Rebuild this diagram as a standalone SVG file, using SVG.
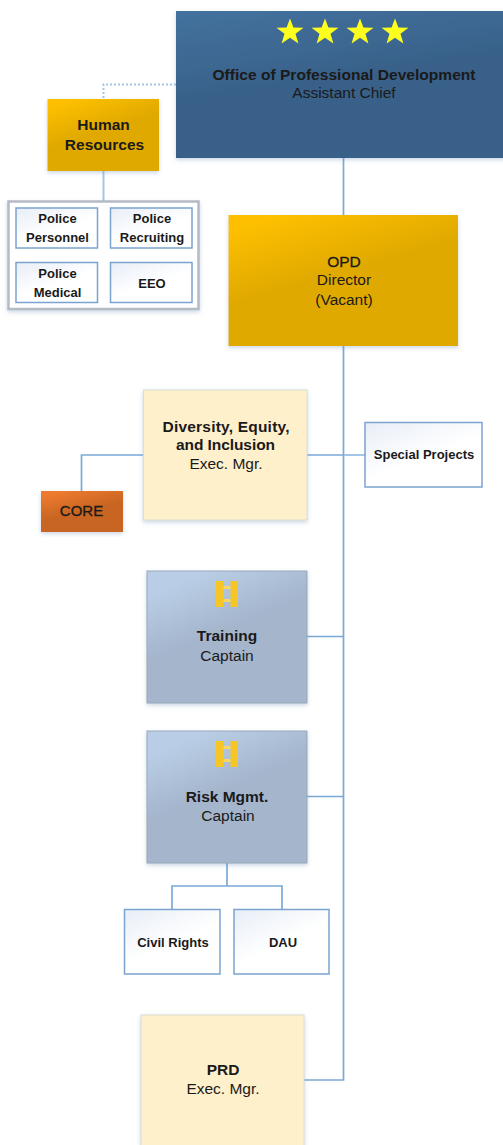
<svg xmlns="http://www.w3.org/2000/svg" width="503" height="1145" viewBox="0 0 503 1145">
<style>
text{font-family:"Liberation Sans",Arial,sans-serif;text-anchor:middle;fill:#1a1a1a;font-size:15.5px}
.b{font-weight:bold}
.m{stroke:#1a1a1a;stroke-width:.3}
.s{font-weight:bold;font-size:13px}
.line{fill:none;stroke:#7aa9d8;stroke-width:1.7}
.soft{fill:none;stroke:#a3c6e6;stroke-width:2}
.small{fill:url(#white);stroke:#7ba3d0;stroke-width:1.5}
.shadow{filter:url(#sh)}
</style>
<defs>
<linearGradient id="blue" x1="0" y1="0" x2="0.35" y2="1"><stop offset="0" stop-color="#44729f"/><stop offset="0.55" stop-color="#386189"/><stop offset="1" stop-color="#386189"/></linearGradient>
<linearGradient id="gold" x1="0" y1="0" x2="0.5" y2="1"><stop offset="0.1" stop-color="#fdbf00"/><stop offset="0.55" stop-color="#dfa900"/><stop offset="1" stop-color="#dfa900"/></linearGradient>
<linearGradient id="steel" x1="0" y1="0" x2="0.5" y2="1"><stop offset="0.15" stop-color="#b9cee6"/><stop offset="0.55" stop-color="#a4b5cc"/><stop offset="1" stop-color="#a4b5cc"/></linearGradient>
<linearGradient id="white" x1="0" y1="0" x2="0.7" y2="1"><stop offset="0" stop-color="#e8eef7"/><stop offset="0.6" stop-color="#ffffff"/></linearGradient>
<linearGradient id="orange" x1="0" y1="0" x2="0.5" y2="1"><stop offset="0.1" stop-color="#ee7a2f"/><stop offset="0.6" stop-color="#c86522"/></linearGradient>
<filter id="sh" x="-10%" y="-10%" width="120%" height="120%"><feDropShadow dx="0" dy="2" stdDeviation="2" flood-color="#6f8fb5" flood-opacity="0.35"/></filter>
<polygon id="star" points="0,-13.500 3.400,-4.400 13.500,-4.200 5.500,1.800 8.400,11.500 0,5.800 -8.400,11.500 -5.500,1.800 -13.500,-4.200 -3.400,-4.400" fill="#ffff1e"/>
<g id="bars"><rect x="-11" y="-13" width="7.500" height="26" fill="#f6c627"/><rect x="3.500" y="-13" width="7.500" height="26" fill="#f6c627"/><rect x="-3.500" y="-8" width="7" height="3" fill="#f9d862"/><rect x="-3.500" y="5" width="7" height="3" fill="#f9d862"/></g>
</defs>
<rect width="503" height="1145" fill="#ffffff"/>
<g id="connectors">
<path class="line" d="M343.500 158V1080H304"/>
<path class="soft" d="M103.500 171V201"/>
<path class="soft" d="M176 84.500H103.500V99" stroke-dasharray="2 2"/>
<path class="line" d="M143 455H81.500V491"/>
<path class="soft" d="M344 455H365"/>
<path class="line" d="M307 455H344"/>
<path class="line" d="M307 636.500H343.500"/>
<path class="line" d="M307 796.500H343.500"/>
<path class="line" d="M227 863V886M172 909V886H282V909"/>
</g>
<g id="office"><rect class="shadow" x="176" y="11" width="335" height="147" fill="url(#blue)"/>
<use href="#star" x="290" y="32"/><use href="#star" x="325" y="32"/><use href="#star" x="360" y="32"/><use href="#star" x="395" y="32"/>
<text class="b" x="344" y="80" style="font-size:14.500px" textLength="263" lengthAdjust="spacingAndGlyphs">Office of Professional Development</text>
<text x="344" y="98">Assistant Chief</text></g>
<g id="hr"><rect class="shadow" x="47.500" y="99" width="111.500" height="72" fill="url(#gold)"/>
<text class="b" x="103.500" y="130">Human</text><text class="b" x="104.500" y="150">Resources</text></g>
<g id="hr-units"><rect class="shadow" x="8.500" y="201.500" width="190" height="107.500" fill="#ffffff" stroke="#b4bac6" stroke-width="2.500"/></g>
<g id="personnel"><rect class="small" x="16" y="208" width="81.500" height="40"/><text class="s" x="57.500" y="223">Police</text><text class="s" x="57.500" y="241.500">Personnel</text></g>
<g id="recruiting"><rect class="small" x="110.500" y="208" width="81.500" height="40"/><text class="s" x="152" y="223">Police</text><text class="s" x="152" y="241.500">Recruiting</text></g>
<g id="medical"><rect class="small" x="16" y="262.500" width="81.500" height="40"/><text class="s" x="57.500" y="278">Police</text><text class="s" x="57.500" y="296.500">Medical</text></g>
<g id="eeo"><rect class="small" x="110.500" y="262.500" width="81.500" height="40"/><text class="s" x="152" y="287.500">EEO</text></g>
<g id="opd"><rect class="shadow" x="228.500" y="215" width="229.500" height="131" fill="url(#gold)"/>
<text class="m" x="344" y="267">OPD</text><text x="344" y="285">Director</text><text x="344" y="305">(Vacant)</text></g>
<g id="dei"><rect class="shadow" x="143.500" y="390" width="163.500" height="130" fill="#fff0cc" stroke="#dcdcd0"/>
<text class="b" x="226" y="432" textLength="127" lengthAdjust="spacing">Diversity, Equity,</text><text class="b" x="225.500" y="450" textLength="99" lengthAdjust="spacing">and Inclusion</text><text x="226" y="469">Exec. Mgr.</text></g>
<g id="special"><rect class="small" x="365" y="422.500" width="117" height="64.500"/><text class="s" x="424" y="459">Special Projects</text></g>
<g id="core"><rect class="shadow" x="41" y="491" width="82" height="41" fill="url(#orange)"/><text class="m" x="81.500" y="516" style="font-size:15px">CORE</text></g>
<g id="training"><rect class="shadow" x="147" y="571" width="160" height="132" fill="url(#steel)" stroke="#9aa8bc"/>
<use href="#bars" x="227" y="594"/>
<text class="b" x="227" y="641">Training</text><text x="227" y="661">Captain</text></g>
<g id="risk"><rect class="shadow" x="147" y="731" width="160" height="132" fill="url(#steel)" stroke="#9aa8bc"/>
<use href="#bars" x="227" y="754"/>
<text class="b" x="227" y="802">Risk Mgmt.</text><text x="228" y="821">Captain</text></g>
<g id="civil"><rect class="small" x="124.500" y="909.500" width="95.500" height="64.500"/><text class="s" x="173" y="947">Civil Rights</text></g>
<g id="dau"><rect class="small" x="234" y="909.500" width="95" height="64.500"/><text class="s" x="283" y="947">DAU</text></g>
<g id="prd"><rect class="shadow" x="141" y="1015" width="163" height="131" fill="#fff0cc" stroke="#dcdcd0"/>
<text class="b" x="223" y="1075">PRD</text><text x="223" y="1094">Exec. Mgr.</text></g>
</svg>
